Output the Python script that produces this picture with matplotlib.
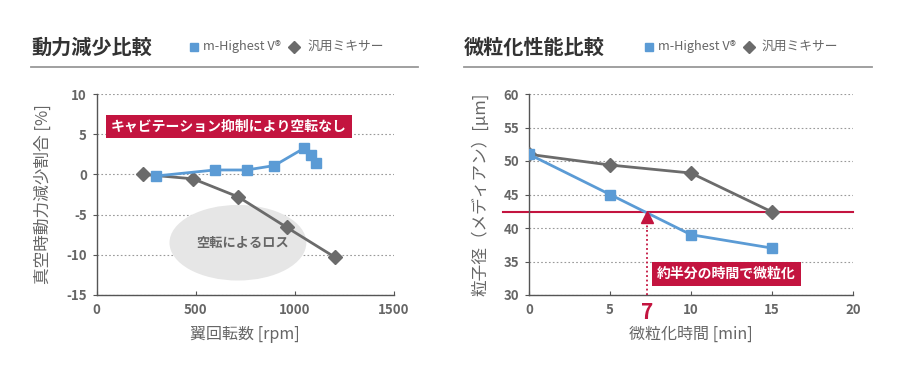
import matplotlib
matplotlib.use("Agg")
import matplotlib.pyplot as plt
from matplotlib.patches import Ellipse
from matplotlib.lines import Line2D

plt.rcParams['font.family'] = ['Noto Sans CJK JP', 'DejaVu Sans']
plt.rcParams['axes.unicode_minus'] = False

# data: power reduction
rpm_mh = [300, 596, 757, 897, 1046, 1084, 1106]
pow_mh = [-0.2, 0.55, 0.55, 1.1, 3.25, 2.4, 1.4]
rpm_gen = [233, 487, 715, 960, 1202]
pow_gen = [0.0, -0.55, -2.8, -6.6, -10.3]

# data: particle size
t_mh = [0, 5, 10, 15]
size_mh = [51.0, 45.0, 39.0, 37.0]
t_gen = [0, 5, 10, 15]
size_gen = [51.0, 49.4, 48.2, 42.4]
target_size = 42.4
half_time = 7.3

BLUE = "#5b9bd5"
GRAY = "#6b6b6b"
RED = "#c3143f"
TXT = "#666666"

W, H = 900, 376
fig = plt.figure(figsize=(9, 3.76), dpi=100)


def px_axes(x0, y0, x1, y1):
    return fig.add_axes([x0 / W, 1 - y1 / H, (x1 - x0) / W, (y1 - y0) / H])


def style(ax):
    for s in ["top", "right"]:
        ax.spines[s].set_visible(False)
    for s in ["left", "bottom"]:
        ax.spines[s].set_color("#555555")
        ax.spines[s].set_linewidth(1)
    ax.tick_params(axis="x", direction="in", length=3, color="#555555",
                   labelsize=9.5, labelcolor=TXT, pad=6)
    ax.tick_params(axis="y", direction="out", length=3, color="#555555",
                   labelsize=9.5, labelcolor=TXT, pad=4)
    for lab in ax.get_xticklabels() + ax.get_yticklabels():
        lab.set_fontweight("bold")
    ax.grid(axis="y", color="#999999", linestyle=(0, (1.5, 2)), linewidth=0.8)
    ax.set_axisbelow(True)


def header(x0, x1, title, lx):
    fig.text(x0 / W, 1 - 47 / H, title, fontsize=14.5, fontweight="bold",
             color="#333333", va="center", ha="left")
    fig.add_artist(Line2D([x0 / W, x1 / W], [1 - 67 / H] * 2, color="#999999",
                          linewidth=1.3, transform=fig.transFigure))
    fig.add_artist(Line2D([lx / W], [1 - 46.5 / H], marker="s", markersize=6,
                          color=BLUE, linestyle="none", transform=fig.transFigure))
    fig.text((lx + 9) / W, 1 - 46.5 / H, "m-Highest V®", fontsize=9.2,
             color=TXT, va="center", ha="left")
    fig.add_artist(Line2D([(lx + 100) / W], [1 - 46.5 / H], marker="D", markersize=6.5,
                          color=GRAY, linestyle="none", transform=fig.transFigure))
    fig.text((lx + 113) / W, 1 - 46.5 / H, "汎用ミキサー", fontsize=9.2,
             color=TXT, va="center", ha="left")


# ---- left chart ----
header(31, 418, "動力減少比較", 194)
ax1 = px_axes(96.5, 94, 394, 295)
ax1.set_xlim(0, 1500)
ax1.set_ylim(-15, 10)
ax1.set_xticks([0, 500, 1000, 1500])
ax1.set_yticks([-15, -10, -5, 0, 5, 10])
style(ax1)
ax1.add_patch(Ellipse((713, -8.5), 690, 9.4, facecolor="#e6e6e6",
                      edgecolor="none", zorder=1))
ax1.text(735, -8.5, "空転によるロス", fontsize=9.5, fontweight="bold",
         color=TXT, ha="center", va="center", zorder=2)
ax1.plot(rpm_gen, pow_gen, color=GRAY, linewidth=2, marker="D",
         markersize=7, zorder=3)
ax1.plot(rpm_mh, pow_mh, color=BLUE, linewidth=2, marker="s",
         markersize=6.5, zorder=4)
ax1.text(668, 5.95, "キャビテーション抑制により空転なし", fontsize=10,
         fontweight="bold", color="white", ha="center", va="center", zorder=5,
         bbox=dict(boxstyle="square,pad=0.35", facecolor=RED, edgecolor="none"))
ax1.set_xlabel("翼回転数 [rpm]", fontsize=11.5, color=TXT, labelpad=6)
ax1.set_ylabel("真空時動力減少割合 [%]", fontsize=12, color=TXT, labelpad=10)

# ---- right chart ----
header(464, 872, "微粒化性能比較", 649)
ax2 = px_axes(529, 94, 853, 295)
ax2.set_xlim(0, 20)
ax2.set_ylim(30, 60)
ax2.set_xticks([0, 5, 10, 15, 20])
ax2.set_yticks([30, 35, 40, 45, 50, 55, 60])
style(ax2)
ax2.axhline(target_size, xmin=-26 / 324, xmax=1, color=RED, linewidth=1.5,
            clip_on=False, zorder=2)
ax2.plot(t_gen, size_gen, color=GRAY, linewidth=2, marker="D",
         markersize=7, zorder=3)
ax2.plot(t_mh, size_mh, color=BLUE, linewidth=2, marker="s",
         markersize=6.5, zorder=4)
ax2.plot([half_time, half_time], [30, target_size - 1.6], color=RED,
         linewidth=1.3, linestyle=(0, (1, 1.5)), zorder=5)
ax2.plot([half_time], [target_size - 0.75], marker="^", markersize=9,
         color=RED, linestyle="none", zorder=6)
ax2.text(12.2, 33.1, "約半分の時間で微粒化", fontsize=10, fontweight="bold",
         color="white", ha="center", va="center", zorder=6,
         bbox=dict(boxstyle="square,pad=0.35", facecolor=RED, edgecolor="none"))
ax2.annotate("7", xy=(half_time, 0), xycoords=("data", "axes fraction"),
             xytext=(0, -5), textcoords="offset points", fontsize=15,
             fontweight="bold", color=RED, ha="center", va="top")
ax2.set_xlabel("微粒化時間 [min]", fontsize=11.5, color=TXT, labelpad=6)
ax2.set_ylabel("粒子径（メディアン）[μm]", fontsize=12, color=TXT, labelpad=10)

fig.savefig("out.png", dpi=100, facecolor="white")
